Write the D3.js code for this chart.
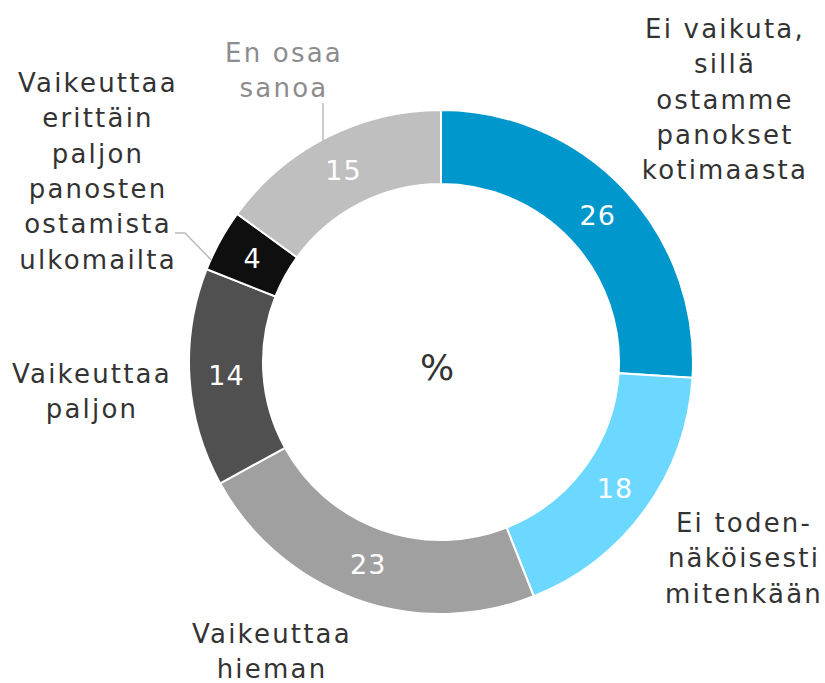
<html>
<head>
<script src="https://cdn.jsdelivr.net/npm/d3@7"></script>
<style>
  body { margin: 0; background: #fff; }
  text { font-family: "DejaVu Sans", Verdana, sans-serif; }
</style>
</head>
<body>
<div id="container1"></div>

<script>

const categories = [
  "Ei vaikuta, sillä ostamme panokset kotimaasta",
  "Ei todennäköisesti mitenkään",
  "Vaikeuttaa hieman",
  "Vaikeuttaa paljon",
  "Vaikeuttaa erittäin paljon panosten ostamista ulkomailta",
  "En osaa sanoa"
];
const values = [26, 18, 23, 14, 4, 15];
const labelLines = [
  ["Ei vaikuta,", "sillä", "ostamme", "panokset", "kotimaasta"],
  ["Ei toden-", "näköisesti", "mitenkään"],
  ["Vaikeuttaa", "hieman"],
  ["Vaikeuttaa", "paljon"],
  ["Vaikeuttaa", "erittäin", "paljon", "panosten", "ostamista", "ulkomailta"],
  ["En osaa", "sanoa"]
];
const colors = ["#0098cc", "#6cd8ff", "#a0a0a0", "#505050", "#0f0f0f", "#bfbfbf"];
const labelColors = ["#333", "#333", "#333", "#333", "#333", "#8c8c8c"];
// x of text centre and baseline of first line for each category label
const labelPos = [[725, 38], [744, 532], [272, 643], [92, 383], [98, 92], [284, 62]];

const width = 825, height = 683;
const cx = 441, cy = 362;
const outerR = 252, innerR = 178;
const lineH = 35.3;

const svg = d3.select("#container1")
  .append("svg")
    .attr("width", width)
    .attr("height", height);

const g = svg.append("g")
    .attr("transform", `translate(${cx},${cy})`);

const pie = d3.pie().sort(null).value(d => d);
const arcs = pie(values);

const arc = d3.arc().innerRadius(innerR).outerRadius(outerR);

g.selectAll("path")
  .data(arcs)
  .join("path")
    .attr("d", arc)
    .attr("fill", (d, i) => colors[i])
    .attr("stroke", "#fff")
    .attr("stroke-width", 2);

// value labels
g.selectAll("text.val")
  .data(arcs)
  .join("text")
    .attr("class", "val")
    .attr("transform", d => `translate(${arc.centroid(d)})`)
    .attr("text-anchor", "middle")
    .attr("dy", "0.36em")
    .style("font-size", "27px")
    .style("letter-spacing", "1px")
    .style("fill", "#fff")
    .text(d => d.data);

// centre
g.append("text")
    .attr("x", -4).attr("y", 5)
    .attr("text-anchor", "middle")
    .attr("dy", "0.36em")
    .style("font-size", "36px")
    .style("fill", "#333")
    .text("%");

// leader lines
const lead = svg.append("g").attr("fill", "none").attr("stroke", "#bbb").attr("stroke-width", 1.5);
// En osaa sanoa: vertical line down to the outer edge
const lx = 323;
const ly = cy - Math.sqrt(outerR * outerR - (lx - cx) * (lx - cx)) + 2;
lead.append("path")
    .attr("d", d3.line()([[lx, 103], [lx, ly]]));
// Vaikeuttaa erittäin paljon ...
const a4 = arcs[4], mid4 = a4.startAngle + (a4.endAngle - a4.startAngle) * 0.16;
lead.append("path")
    .attr("d", d3.line()([[175, 233], [185, 233], [cx + Math.sin(mid4) * (outerR - 1), cy - Math.cos(mid4) * (outerR - 1)]]));

// category labels
categories.forEach((c, i) => {
  const t = svg.append("text")
      .attr("text-anchor", "middle")
      .style("font-size", "26px")
      .style("letter-spacing", "2.2px")
      .style("fill", labelColors[i]);
  labelLines[i].forEach((ln, j) => {
    t.append("tspan")
      .attr("x", labelPos[i][0])
      .attr("y", labelPos[i][1] + j * lineH)
      .text(ln);
  });
});

</script>
</body>
</html>
